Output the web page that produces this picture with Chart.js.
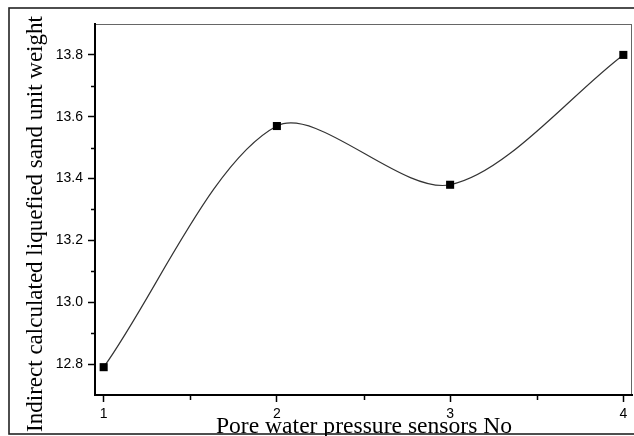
<!DOCTYPE html>
<html>
<head>
<meta charset="utf-8">
<script src="https://cdn.jsdelivr.net/npm/chart.js@4"></script>
<style>
  html, body { margin: 0; padding: 0; background: #fff; }
  #c { display: block; }
</style>
</head>
<body>
<canvas id="c" width="634" height="436"></canvas>
<script>
const sensors = [1, 2, 3, 4];
const unitWeight = [12.79, 13.57, 13.38, 13.80];

const xTicks = [1, 2, 3, 4];
const xMinor = [1.5, 2.5, 3.5];
const yTicks = [12.8, 13.0, 13.2, 13.4, 13.6, 13.8];
const yMinor = [12.9, 13.1, 13.3, 13.5, 13.7];

const xTitle = "Pore water pressure sensors No";
const yTitle = "Indirect calculated liquefied sand unit weight";

const points = sensors.map((s, i) => ({ x: s, y: unitWeight[i] }));

// frame, minor ticks and axis titles
const extras = {
  id: "extras",
  beforeDraw(chart) {
    const ctx = chart.ctx;
    const a = chart.chartArea;
    ctx.save();
    ctx.fillStyle = "#fff";
    ctx.fillRect(0, 0, chart.width, chart.height);
    // outer figure frame
    ctx.strokeStyle = "#222";
    ctx.lineWidth = 1.6;
    ctx.strokeRect(9, 8, 700, 426);
    // thin box on top/right of plot
    ctx.strokeStyle = "#666";
    ctx.lineWidth = 1;
    ctx.strokeRect(a.left, a.top + 0.5, a.right - a.left - 0.5, a.bottom - a.top);
    ctx.restore();
  },
  afterDraw(chart) {
    const ctx = chart.ctx;
    const a = chart.chartArea;
    const xs = chart.scales.x;
    const ys = chart.scales.y;
    ctx.save();
    ctx.strokeStyle = "#000";
    ctx.lineWidth = 1.5;
    ctx.beginPath();
    xMinor.forEach(v => {
      const px = Math.round(xs.getPixelForValue(v)) + 0.5;
      ctx.moveTo(px, a.bottom);
      ctx.lineTo(px, a.bottom + 5);
    });
    yMinor.forEach(v => {
      const py = Math.round(ys.getPixelForValue(v)) + 0.5;
      ctx.moveTo(a.left, py);
      ctx.lineTo(a.left - 4, py);
    });
    ctx.stroke();

    ctx.fillStyle = "#000";
    ctx.textAlign = "center";
    ctx.textBaseline = "alphabetic";
    ctx.font = '23.6px "Liberation Serif", "Times New Roman", serif';
    ctx.fillText(xTitle, 364, 433);
    ctx.font = '23px "Liberation Serif", "Times New Roman", serif';
    ctx.translate(42, 224);
    ctx.rotate(-Math.PI / 2);
    ctx.fillText(yTitle, 0, 0);
    ctx.restore();
  }
};

new Chart(document.getElementById("c"), {
  type: "line",
  data: {
    datasets: [
      {
        data: points,
        borderColor: "#333",
        borderWidth: 1.2,
        tension: 0.3,
        pointStyle: "rect",
        pointRadius: 5.7,
        pointBackgroundColor: "#000",
        pointBorderWidth: 0,
        fill: false,
        clip: false,
      },
    ],
  },
  options: {
    responsive: false,
    animation: false,
    devicePixelRatio: 1,
    layout: { autoPadding: false, padding: { top: 24, right: 2, left: 0, bottom: 0 } },
    plugins: { legend: { display: false }, tooltip: { enabled: false } },
    scales: {
      x: {
        type: "linear",
        min: 0.95,
        max: 4.05,
        afterBuildTicks: s => { s.ticks = xTicks.map(v => ({ value: v })); },
        afterFit: s => { s.height = 41; s.paddingLeft = 0; s.paddingRight = 0; },
        grid: { drawOnChartArea: false, tickLength: 7, color: "#000", tickWidth: 1.5 },
        border: { color: "#000", width: 2 },
        ticks: {
          color: "#000",
          padding: 4,
          maxRotation: 0,
          font: { family: '"Liberation Sans", Arial, sans-serif', size: 14 },
        },
      },
      y: {
        min: 12.7,
        max: 13.9,
        afterBuildTicks: s => { s.ticks = yTicks.map(v => ({ value: v })); },
        afterFit: s => { s.width = 95; s.paddingTop = 0; s.paddingBottom = 0; },
        grid: { drawOnChartArea: false, tickLength: 7, color: "#000", tickWidth: 1.5 },
        border: { color: "#000", width: 2 },
        ticks: {
          color: "#000",
          padding: 5,
          callback: v => v.toFixed(1),
          font: { family: '"Liberation Sans", Arial, sans-serif', size: 14 },
        },
      },
    },
  },
  plugins: [extras],
});
</script>
</body>
</html>
